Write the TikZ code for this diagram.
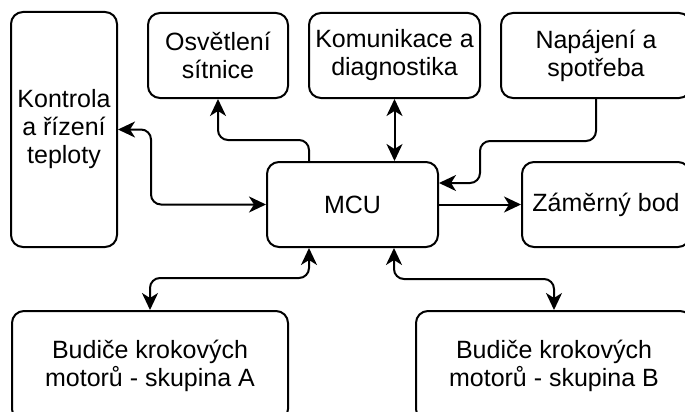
\documentclass[tikz,border=0pt]{standalone}
\usepackage{fontspec}
\setmainfont{Liberation Sans}
\usetikzlibrary{arrows.meta}
\tikzset{
  blk/.style={draw, line width=2pt, rounded corners=12pt, align=center,
    inner sep=0pt, font=\fontsize{25}{28}\selectfont},
  conn/.style={line width=2pt, rounded corners=10pt},
  tip/.tip={Stealth[length=17pt, width=16pt, inset=5pt]}
}
\begin{document}
\begin{tikzpicture}[x=1pt, y=-1pt]
  \useasboundingbox (0,0) rectangle (685,412);
  \clip (0,0) rectangle (685,412);
  \fill[white] (0,0) rectangle (685,412);

  % blocks
  \node[blk, minimum width=106pt, minimum height=235pt] (kon) at (64,129.5) {Kontrola\\a řízení\\teploty};
  \node[blk, minimum width=140pt, minimum height=85pt] (osv) at (218,55.5) {Osvětlení\\sítnice};
  \node[blk, minimum width=171pt, minimum height=85pt] (kom) at (394.5,55.5) {Komunikace a\\diagnostika};
  \node[blk, minimum width=190pt, minimum height=85pt] (nap) at (596,55.5) {Napájení a\\spotřeba};
  \node[blk, minimum width=171pt, minimum height=85pt] (mcu) at (352.5,204.5) {MCU};
  \node[blk, minimum width=168pt, minimum height=85pt] (zam) at (606,204.5) {Záměrný bod};
  \node[blk, minimum width=276pt, minimum height=110pt] (buda) at (150,366) {Budiče krokových\\motorů - skupina A};
  \node[blk, minimum width=276pt, minimum height=110pt] (budb) at (554,366) {Budiče krokových\\motorů - skupina B};

  % connectors
  \draw[conn, {tip}-{tip}] (kon.east) -- ++(33,0) |- (mcu.west);
  \draw[conn, -{tip}] ([xshift=-43.5pt]mcu.north) -- ++(0,-21) -| (osv.south);
  \draw[conn, {tip}-{tip}] (kom.south) -- (kom.south |- mcu.north);
  \coordinate (npturn) at (480,141);
  \draw[conn, -{tip}] (nap.south) |- (npturn) |- ([yshift=21.5pt]mcu.east);
  \draw[conn, -{tip}] (mcu.east) -- (zam.west);
  \draw[conn, {tip}-{tip}] ([xshift=-43.5pt]mcu.south) -- ++(0,30) -| (buda.north);
  \draw[conn, {tip}-{tip}] ([xshift=41.5pt]mcu.south) -- ++(0,31) -| (budb.north);
\end{tikzpicture}
\end{document}
